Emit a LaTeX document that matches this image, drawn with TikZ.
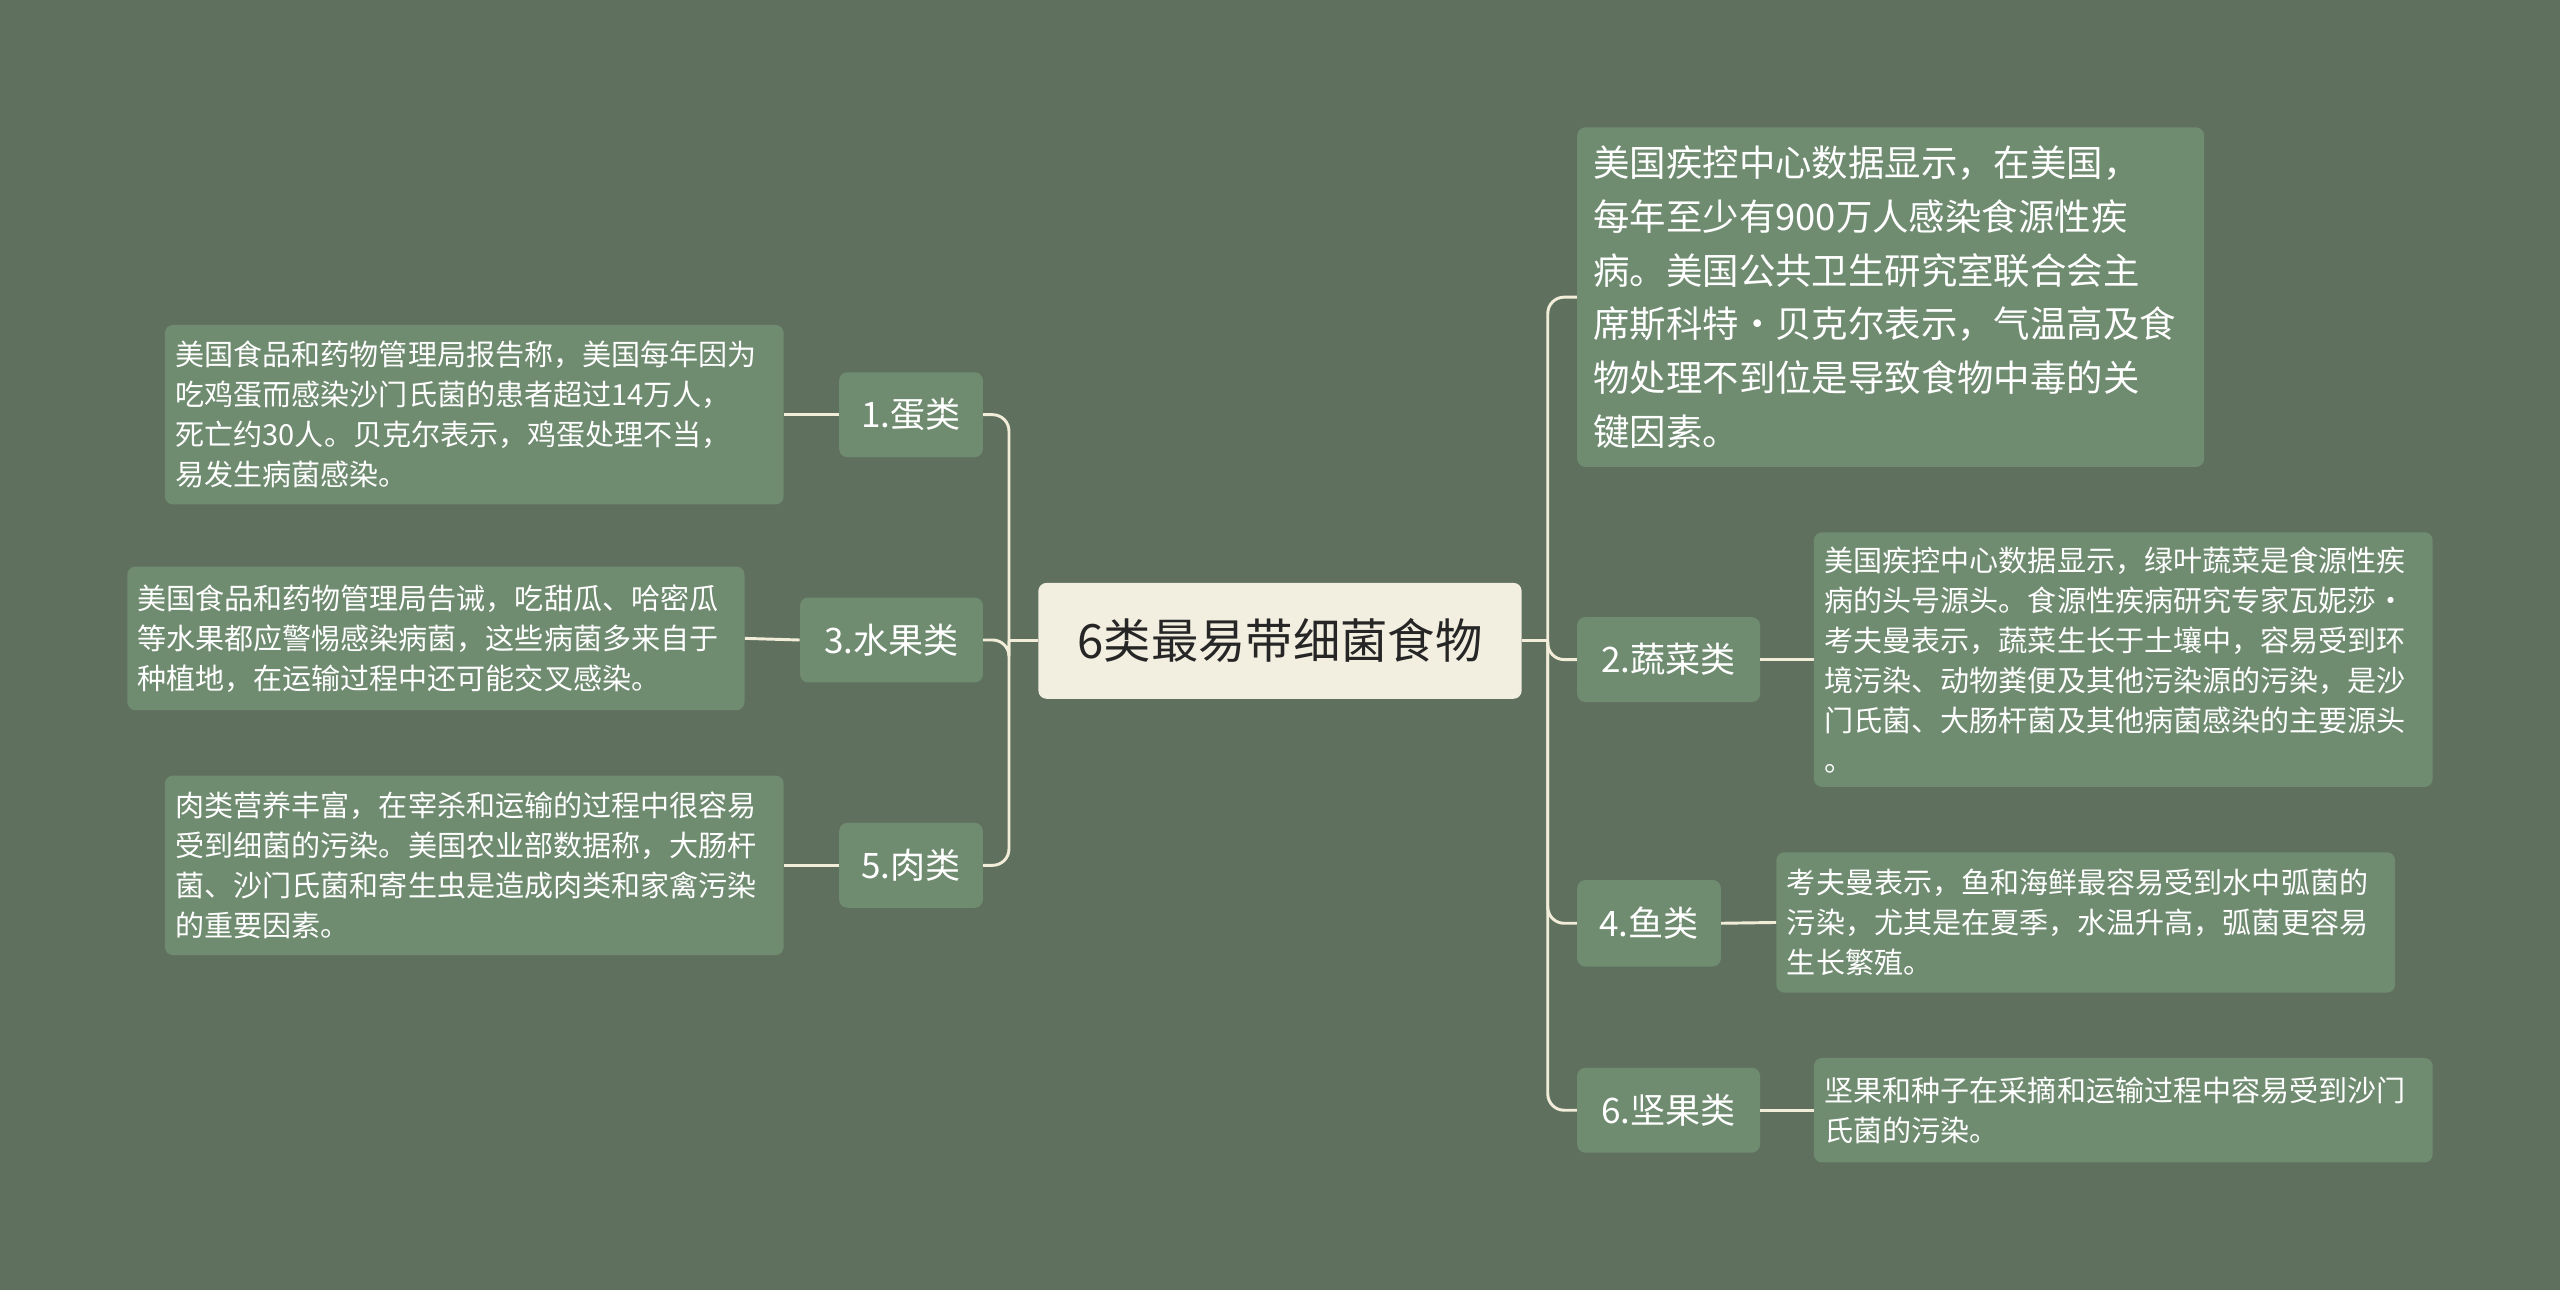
\documentclass[tikz,border=0pt]{standalone}
\usepackage{fontspec}
\setmainfont{Noto Sans CJK SC}
\begin{document}
\begin{tikzpicture}[x=1pt,y=-1pt,
  box/.style={fill=nodeg,rounded corners=5pt,text=white,align=left,inner sep=0pt},
  ln/.style={draw=linec,line width=1.8pt,rounded corners=10pt}]
\definecolor{bg}{HTML}{5F705F}
\definecolor{nodeg}{HTML}{6F8B70}
\definecolor{linec}{HTML}{F2EDD8}
\definecolor{cen}{HTML}{F3EFE0}
\fill[bg] (0,0) rectangle (1568,790);
\useasboundingbox (0,0) rectangle (1568,790);
% center
\node[fill=cen,rounded corners=5pt,minimum width=296,minimum height=71,font=\fontsize{29}{32}\selectfont,text=black!85] (c) at (784,392.5) {6类最易带细菌食物};
% right
\node[box,minimum width=384,minimum height=208,font=\fontsize{22.3}{33}\selectfont,text width=364] (t0) at (1158,182) {美国疾控中心数据显示，在美国，\\每年至少有900万人感染食源性疾\\病。美国公共卫生研究室联合会主\\席斯科特·贝克尔表示，气温高及食\\物处理不到位是导致食物中毒的关\\键因素。};
\node[box,minimum width=112,minimum height=52,align=center,font=\fontsize{21.5}{24}\selectfont] (r2) at (1022,404) {2.蔬菜类};
\node[box,minimum width=379,minimum height=156,font=\fontsize{17.8}{24.5}\selectfont,text width=366] (t2) at (1300.5,404) {美国疾控中心数据显示，绿叶蔬菜是食源性疾\\病的头号源头。食源性疾病研究专家瓦妮莎·\\考夫曼表示，蔬菜生长于土壤中，容易受到环\\境污染、动物粪便及其他污染源的污染，是沙\\门氏菌、大肠杆菌及其他病菌感染的主要源头\\。};
\node[box,minimum width=88,minimum height=53,align=center,font=\fontsize{21.5}{24}\selectfont] (r4) at (1010,565.5) {4.鱼类};
\node[box,minimum width=379,minimum height=86,font=\fontsize{17.8}{24.5}\selectfont,text width=366] (t4) at (1277.5,565) {考夫曼表示，鱼和海鲜最容易受到水中弧菌的\\污染，尤其是在夏季，水温升高，弧菌更容易\\生长繁殖。};
\node[box,minimum width=112,minimum height=52,align=center,font=\fontsize{21.5}{24}\selectfont] (r6) at (1022,680) {6.坚果类};
\node[box,minimum width=379,minimum height=64,font=\fontsize{17.8}{24.5}\selectfont,text width=366] (t6) at (1300.5,680) {坚果和种子在采摘和运输过程中容易受到沙门\\氏菌的污染。};
% left
\node[box,minimum width=88,minimum height=52,align=center,font=\fontsize{21.5}{24}\selectfont] (l1) at (558,254) {1.蛋类};
\node[box,minimum width=379,minimum height=110,font=\fontsize{17.8}{24.5}\selectfont,text width=366] (s1) at (290.5,254) {美国食品和药物管理局报告称，美国每年因为\\吃鸡蛋而感染沙门氏菌的患者超过14万人，\\死亡约30人。贝克尔表示，鸡蛋处理不当，\\易发生病菌感染。};
\node[box,minimum width=112,minimum height=52,align=center,font=\fontsize{21.5}{24}\selectfont] (l3) at (546,392) {3.水果类};
\node[box,minimum width=378,minimum height=88,font=\fontsize{17.8}{24.5}\selectfont,text width=366] (s3) at (267,391) {美国食品和药物管理局告诫，吃甜瓜、哈密瓜\\等水果都应警惕感染病菌，这些病菌多来自于\\种植地，在运输过程中还可能交叉感染。};
\node[box,minimum width=88,minimum height=52,align=center,font=\fontsize{21.5}{24}\selectfont] (l5) at (558,530) {5.肉类};
\node[box,minimum width=379,minimum height=110,font=\fontsize{17.8}{24.5}\selectfont,text width=366] (s5) at (290.5,530) {肉类营养丰富，在宰杀和运输的过程中很容易\\受到细菌的污染。美国农业部数据称，大肠杆\\菌、沙门氏菌和寄生虫是造成肉类和家禽污染\\的重要因素。};
% connectors
\coordinate (rj) at (948,392.5);
\coordinate (lj) at (618,392.5);
\draw[ln] (c.east) -- (rj);
\foreach \n in {t0,r2,r4,r6} \draw[ln] (rj) |- (\n.west);
\draw[ln] (c.west) -- (lj);
\foreach \n in {l1,l3,l5} \draw[ln] (lj) |- (\n.east);
\draw[ln] (r2.east) -- (t2.west);
\draw[ln] (r4.east) -- (t4.west);
\draw[ln] (r6.east) -- (t6.west);
\draw[ln] (l1.west) -- (s1.east);
\draw[ln] (l3.west) -- (s3.east);
\draw[ln] (l5.west) -- (s5.east);
\end{tikzpicture}
\end{document}
